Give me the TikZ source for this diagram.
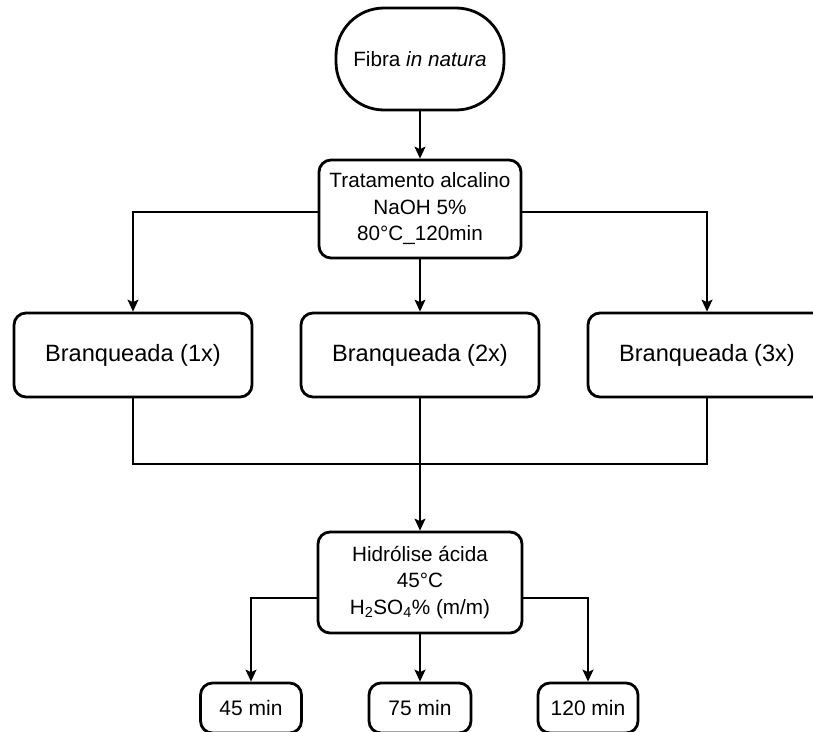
\documentclass[tikz,border=0pt]{standalone}
\usepackage{fontspec}
\setmainfont{Liberation Sans}
\usetikzlibrary{arrows.meta}
\begin{document}
\begin{tikzpicture}[x=1pt,y=-1pt,
  box/.style={draw, line width=2.8pt, rounded corners=12pt, align=center, inner sep=0pt},
  conn/.style={line width=1.4pt, -{Stealth[length=12pt,width=11pt,inset=2.5pt]}},
  line/.style={line width=1.4pt},
  mid/.style={font=\fontsize{20.7}{26.5}\selectfont},
  big/.style={font=\fontsize{23.6}{28}\selectfont},
  small/.style={font=\fontsize{21}{25}\selectfont}]
\useasboundingbox (0,0) rectangle (813,731);
\node[box, mid, rounded corners=48pt, minimum width=168pt, minimum height=102pt] (fib) at (420,59) {Fibra \textit{in natura}};
\node[box, mid, minimum width=202pt, minimum height=98pt] (tra) at (420,209) {Tratamento alcalino\\NaOH 5\%\\80°C\_120min};
\node[box, big, minimum width=238pt, minimum height=84pt] (b1) at (133,355) {Branqueada (1x)};
\node[box, big, minimum width=238pt, minimum height=84pt] (b2) at (420,355) {Branqueada (2x)};
\node[box, big, minimum width=238pt, minimum height=84pt] (b3) at (707,355) {Branqueada (3x)};
\node[box, mid, minimum width=204pt, minimum height=101pt] (hid) at (420,582.5) {Hidrólise ácida\\45°C\\H\textsubscript{2}SO\textsubscript{4}\% (m/m)};
\node[box, small, minimum width=101pt, minimum height=50pt] (m45) at (251,708) {45 min};
\node[box, small, minimum width=102pt, minimum height=50pt] (m75) at (420,708) {75 min};
\node[box, small, minimum width=100pt, minimum height=50pt] (m120) at (588,708) {120 min};
\coordinate (jy) at (0,464);
\coordinate (hy) at (0,598);
\coordinate (ty) at (0,212);
\draw[conn] (fib) -- (tra);
\draw[conn] (tra.west |- ty) -| (b1.north);
\draw[conn] (tra.east |- ty) -| (b3.north);
\draw[conn] (tra) -- (b2);
\draw[line] (b1.south) |- (b2.south |- jy) -| (b3.south);
\draw[conn] (b2.south) -- (hid.north);
\draw[conn] (hid.west |- hy) -| (m45.north);
\draw[conn] (hid.east |- hy) -| (m120.north);
\draw[conn] (hid.south) -- (m75.north);
\end{tikzpicture}
\end{document}
